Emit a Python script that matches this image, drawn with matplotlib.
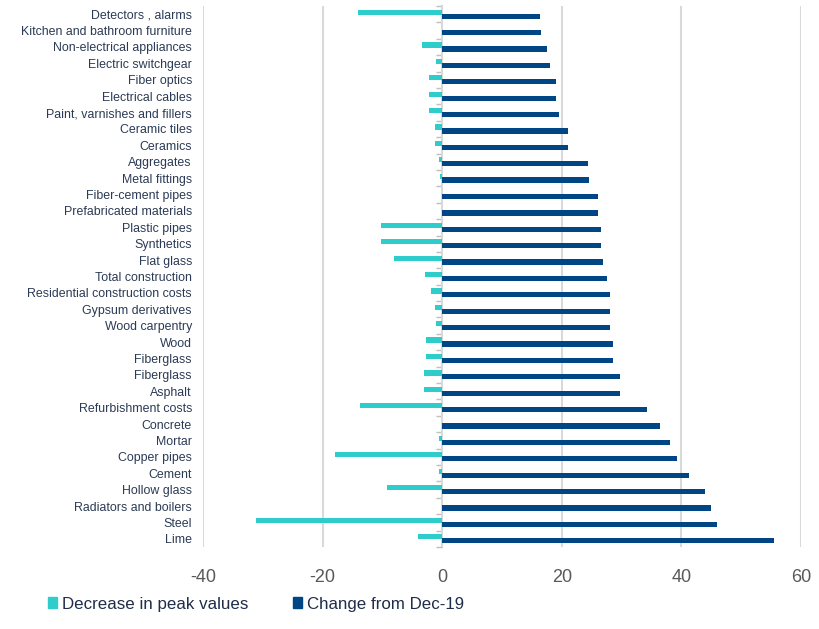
import matplotlib
matplotlib.use("Agg")
import matplotlib.pyplot as plt
import numpy as np
from matplotlib.patches import Patch

categories = [
    "Detectors , alarms", "Kitchen and bathroom furniture", "Non-electrical appliances",
    "Electric switchgear", "Fiber optics", "Electrical cables", "Paint, varnishes and fillers",
    "Ceramic tiles", "Ceramics", "Aggregates", "Metal fittings", "Fiber-cement pipes",
    "Prefabricated materials", "Plastic pipes", "Synthetics", "Flat glass",
    "Total construction", "Residential construction costs", "Gypsum derivatives",
    "Wood carpentry", "Wood", "Fiberglass", "Fiberglass", "Asphalt",
    "Refurbishment costs", "Concrete", "Mortar", "Copper pipes", "Cement",
    "Hollow glass", "Radiators and boilers", "Steel", "Lime",
]
decrease_peak = [
    -14.1, 0.0, -3.4, -1.0, -2.2, -2.2, -2.2, -1.2, -1.2, -0.5, -0.3, 0.0,
    0.0, -10.2, -10.2, -8.0, -2.9, -1.8, -1.2, -1.0, -2.7, -2.7, -3.1, -3.1,
    -13.8, 0.0, -0.5, -17.9, -0.5, -9.3, 0.0, -31.2, -4.0,
]
change_dec19 = [
    16.4, 16.6, 17.5, 18.1, 19.0, 19.0, 19.6, 21.1, 21.1, 24.3, 24.6, 26.1,
    26.1, 26.5, 26.5, 26.9, 27.6, 28.0, 28.0, 28.0, 28.6, 28.6, 29.7, 29.7,
    34.3, 36.4, 38.1, 39.2, 41.3, 43.9, 45.0, 46.0, 55.5,
]
x_ticks = [-40, -20, 0, 20, 40, 60]
series_names = ["Decrease in peak values", "Change from Dec-19"]

LIGHT = "#2ECCCB"
DARK = "#004684"
font = "Liberation Sans"

fig = plt.figure(figsize=(8.19, 6.29), dpi=100)
ax = fig.add_axes([203 / 819, 1 - 547 / 629, 598 / 819, 541 / 629])

y = np.arange(len(categories))
h = 0.32
ax.barh(y - 0.12, decrease_peak, height=h, color=LIGHT, zorder=3)
ax.barh(y + 0.12, change_dec19, height=h, color=DARK, zorder=4)

ax.set_xlim(-40, 60)
ax.set_ylim(len(categories) - 0.5, -0.5)
ax.set_xticks(x_ticks)
ax.set_xticklabels([str(t) for t in x_ticks], fontsize=13, color="#595959", family=font)
ax.tick_params(axis="x", length=0, pad=16)
ax.grid(axis="x", color="#D9D9D9", linewidth=1.5, zorder=0)

ax.set_yticks(y)
ax.set_yticklabels(categories, fontsize=8.9, color="#2B3A55", family=font)
ax.tick_params(axis="y", length=0, pad=8)

for s in ax.spines.values():
    s.set_visible(False)

# category axis crossing at zero, with tick marks between categories
zero_axis = ax.secondary_yaxis(0.4)
zero_axis.set_yticks(np.arange(len(categories) + 1) - 0.5)
zero_axis.set_yticklabels([])
zero_axis.tick_params(axis="y", direction="out", length=4, color="#BFBFBF", width=1)
zero_axis.spines["left"].set_color("#BFBFBF")
zero_axis.spines["left"].set_linewidth(1.2)

handles = [Patch(color=LIGHT), Patch(color=DARK)]
fig.legend(handles, series_names, loc="center", bbox_to_anchor=(256 / 819, 1 - 604 / 629),
           ncol=2, frameon=False, handlelength=0.55, handleheight=0.55, handletextpad=0.3,
           columnspacing=2.6, prop={"family": font, "size": 12.2}, labelcolor="#1F2D4A")

fig.savefig("out.png", dpi=100)
